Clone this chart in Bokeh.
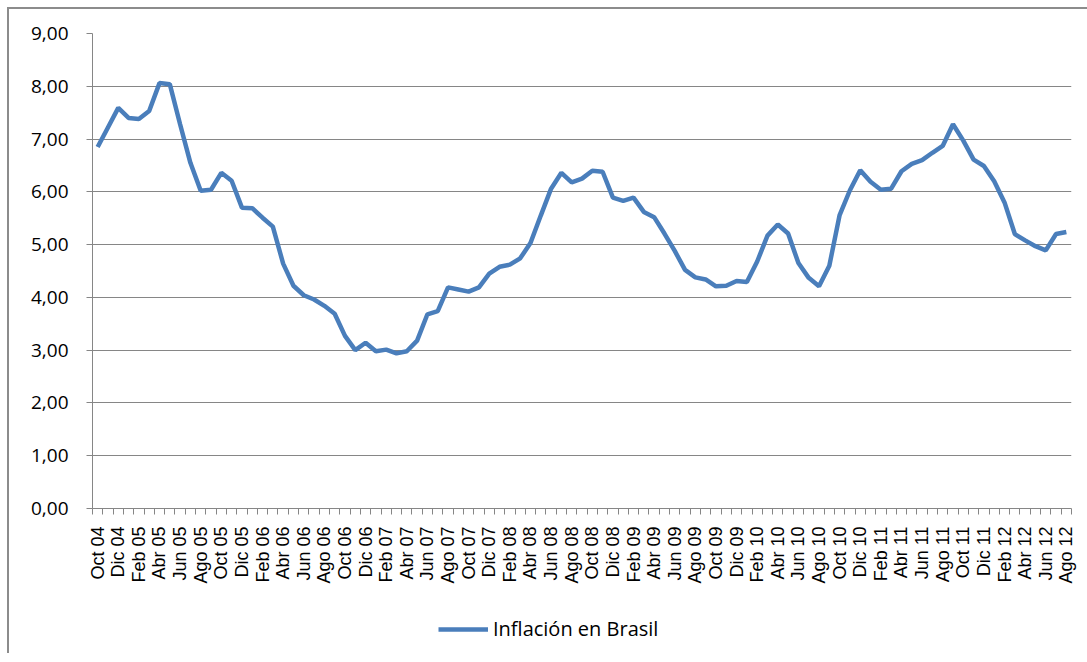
from bokeh.plotting import figure
from bokeh.layouts import column
from bokeh.models import Range1d, FixedTicker, CustomJSTickFormatter
from bokeh.embed import file_html
from bokeh.resources import INLINE
from math import pi

months = ["Ene", "Feb", "Mar", "Abr", "May", "Jun", "Jul", "Ago", "Sep", "Oct", "Nov", "Dic"]

# Monthly labels Oct 04 .. Ago 12
labels = ["Oct 04", "Nov 04", "Dic 04"]
for yr in range(5, 12):
    labels += [f"{m} {yr:02d}" for m in months]
labels += [f"{m} 12" for m in months[:8]]

inflation = [
    6.85, 7.22, 7.59,
    7.40, 7.38, 7.53, 8.06, 8.04, 7.28, 6.55, 6.02, 6.04, 6.36, 6.21, 5.70,
    5.69, 5.51, 5.34, 4.64, 4.22, 4.04, 3.96, 3.84, 3.69, 3.27, 3.00, 3.14,
    2.98, 3.01, 2.94, 2.98, 3.18, 3.68, 3.74, 4.19, 4.15, 4.11, 4.19, 4.45,
    4.58, 4.62, 4.74, 5.03, 5.55, 6.06, 6.36, 6.18, 6.25, 6.40, 6.38, 5.89,
    5.83, 5.89, 5.62, 5.52, 5.21, 4.88, 4.52, 4.38, 4.34, 4.21, 4.22, 4.31,
    4.29, 4.68, 5.17, 5.38, 5.21, 4.65, 4.37, 4.21, 4.60, 5.56, 6.03, 6.41,
    6.19, 6.04, 6.06, 6.39, 6.53, 6.60, 6.74, 6.87, 7.28, 6.97, 6.61, 6.49,
    6.20, 5.80, 5.20, 5.08, 4.97, 4.89, 5.20, 5.24,
]

y_ticks = [0, 1, 2, 3, 4, 5, 6, 7, 8, 9]
series_name = "Inflación en Brasil"

n = len(inflation)
xs = list(range(n))

GRID = "#868686"
LINE = "#4a7ebb"

p = figure(
    frame_width=979, frame_height=475,
    output_backend="svg", toolbar_location=None,
    x_range=Range1d(-0.5, n - 0.5), y_range=Range1d(0, 9),
    min_border_left=83, min_border_right=16,
    min_border_top=24, min_border_bottom=100,
)
p.outline_line_color = None
p.background_fill_color = "white"
p.border_fill_color = "white"

p.line(xs, inflation, line_color=LINE, line_width=4.5)

# X axis
xa = p.xaxis[0]
xa.ticker = FixedTicker(ticks=xs[::2], minor_ticks=[i - 0.5 for i in range(n + 1)])
xa.formatter = CustomJSTickFormatter(args=dict(labels=labels),
                                     code="return labels[Math.round(tick)] || '';")
xa.major_label_orientation = pi / 2
xa.major_tick_out = 0
xa.major_tick_in = 0
xa.minor_tick_out = 6
xa.minor_tick_in = 0
xa.minor_tick_line_color = GRID
xa.axis_line_color = GRID
xa.major_label_standoff = 12
xa.major_label_text_font = "Liberation Sans"
xa.major_label_text_font_size = "18px"
xa.major_label_text_color = "black"

# Y axis
ya = p.yaxis[0]
ya.ticker = FixedTicker(ticks=y_ticks, minor_ticks=[])
ya.formatter = CustomJSTickFormatter(code="return tick.toFixed(2).replace('.', ',');")
ya.major_tick_out = 6
ya.major_tick_in = 0
ya.major_tick_line_color = GRID
ya.minor_tick_line_color = None
ya.axis_line_color = GRID
ya.major_label_standoff = 18
ya.major_label_text_font = "Open Sans"
ya.major_label_text_font_size = "19px"
ya.major_label_text_color = "black"

p.xgrid.grid_line_color = None
p.ygrid.grid_line_color = GRID
p.ygrid.grid_line_width = 1

# Legend strip below the chart (series drawn out of view, only its legend shows)
p2 = figure(
    width=1078, height=45,
    output_backend="svg", toolbar_location=None,
    x_range=Range1d(-0.5, n - 0.5), y_range=Range1d(100, 101),
    x_axis_location=None, y_axis_location=None,
    min_border=0,
)
p2.outline_line_color = None
p2.grid.visible = False
p2.background_fill_color = "white"
p2.border_fill_color = "white"
p2.line(xs, inflation, line_color=LINE, line_width=4.5, legend_label=series_name)

lg = p2.legend[0]
lg.location = (346, 11)
lg.border_line_color = None
lg.background_fill_alpha = 0
lg.padding = 0
lg.margin = 0
lg.spacing = 0
lg.glyph_width = 50
lg.glyph_height = 20
lg.label_standoff = 5
lg.label_text_font = "Open Sans"
lg.label_text_font_size = "20px"
lg.label_text_color = "black"

layout = column(p, p2, spacing=0)
layout.styles = {"margin": "7px 0 0 7px",
                 "border-left": "2px solid #8c8c8c", "border-top": "2px solid #8c8c8c"}

open("out.html", "w").write(file_html(layout, INLINE))
